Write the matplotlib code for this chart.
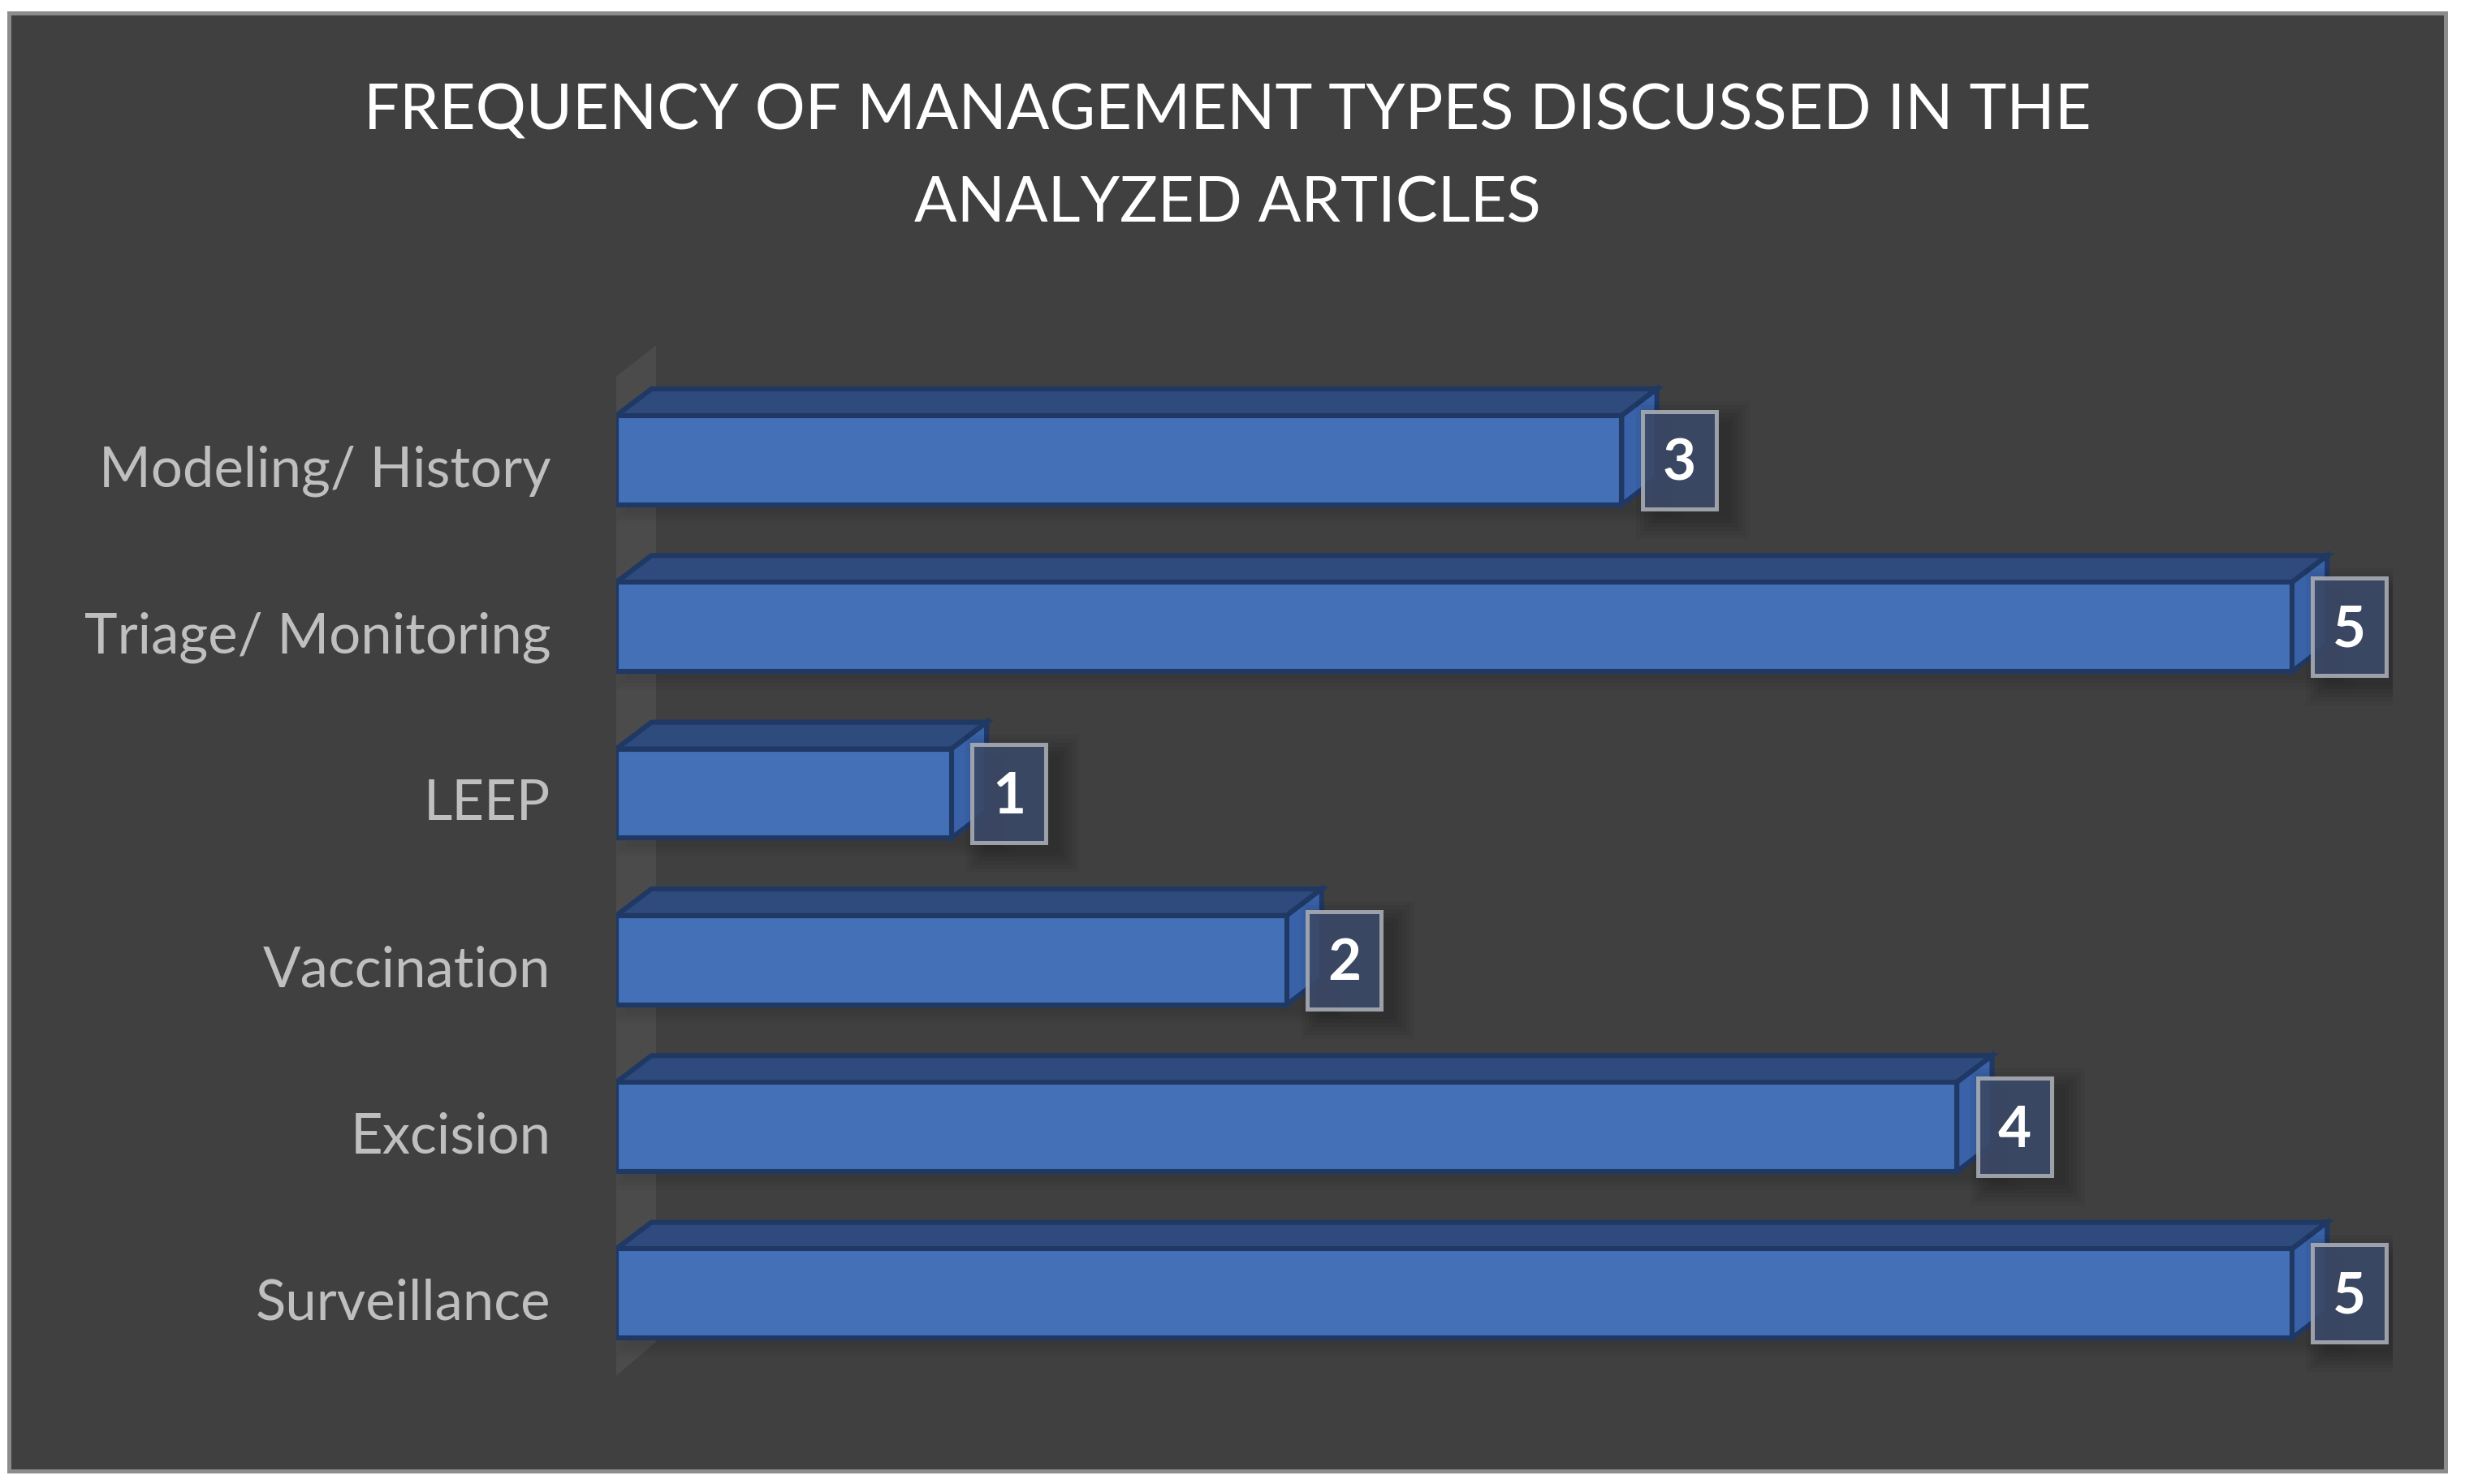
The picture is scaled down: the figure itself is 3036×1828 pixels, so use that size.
import matplotlib.pyplot as plt
from matplotlib.patches import Polygon, Rectangle
from matplotlib.transforms import ScaledTranslation

# data
categories = ['Modeling/ History', 'Triage/ Monitoring', 'LEEP', 'Vaccination', 'Excision', 'Surveillance']
counts = [3, 5, 1, 2, 4, 5]
title_lines = ['FREQUENCY OF MANAGEMENT TYPES DISCUSSED IN THE', 'ANALYZED ARTICLES']

plt.rcParams['font.family'] = ['Lato', 'DejaVu Sans']

BG = '#404040'
FRONT = '#4470b7'
TOP = '#2f4b7d'
SIDE = '#3a62a8'
EDGE = '#1f3864'
WALL = '#4b4b4b'

fig = plt.figure(figsize=(15.18, 9.14), dpi=200, facecolor='white')

# dark chart area with grey frame
fig.add_artist(Rectangle((11 / 3036, 16 / 1828), 3001 / 3036, 1796 / 1828,
                         transform=fig.transFigure, facecolor=BG,
                         edgecolor='#8c8c8c', lw=1.8, zorder=0))

ax = fig.add_axes([0.25, 0.0385, 0.7206, 0.7525])
ax.set_facecolor('none')
ax.set_xlim(0, 5.3)
ax.set_ylim(5.8, -0.9)
for s in ax.spines.values():
    s.set_visible(False)
ax.xaxis.set_visible(False)

ypos = list(range(len(categories)))
ax.set_yticks(ypos, categories)
ax.tick_params(axis='y', length=0, pad=29, labelsize=24.8, labelcolor='#bfbfbf')
# nudge labels slightly down, like the original
shift = ScaledTranslation(0, -2.5 / 72, fig.dpi_scale_trans)
for lbl in ax.get_yticklabels():
    lbl.set_transform(lbl.get_transform() + shift)

# depth of 3d effect (data units)
DX, DY = 0.105, 0.16
h = 0.535

# back wall
ax.add_patch(Polygon([(-0.027, -0.46), (0.119, -0.69), (0.119, 5.29), (-0.027, 5.54)],
                     closed=True, facecolor=WALL, edgecolor='none', zorder=1))

bars = ax.barh(ypos, counts, height=h, color=FRONT, edgecolor=EDGE, lw=2.2, zorder=3)

for y, v in zip(ypos, counts):
    top = y - h / 2
    bot = y + h / 2
    # faint shadow under the bar
    for k in range(4):
        g = 0.02 * k
        ax.add_patch(Rectangle((0.03 - g, top + 0.05 - g), v + DX + 2 * g, h + 2 * g,
                               facecolor='black', alpha=0.025, edgecolor='none', zorder=1.5))
    ax.add_patch(Polygon([(0, top), (v, top), (v + DX, top - DY), (DX, top - DY)],
                         closed=True, facecolor=TOP, edgecolor=EDGE, lw=2.2, zorder=2))
    ax.add_patch(Polygon([(v, top), (v + DX, top - DY), (v + DX, bot - DY), (v, bot)],
                         closed=True, facecolor=SIDE, edgecolor=EDGE, lw=2.2, zorder=2))

    # data label box with soft shadow
    bx = v + 0.062
    bw, bh = 0.22, 0.585
    for k in range(6):
        g = 0.012 * k
        ax.add_patch(Rectangle((bx + 0.04 - g, y - bh / 2 + 0.06 - g * 2), bw + 2 * g, bh + 4 * g,
                               facecolor='black', alpha=0.04, edgecolor='none', zorder=4))
    ax.add_patch(Rectangle((bx, y - bh / 2), bw, bh, facecolor='#3c4a68', alpha=0.9,
                           edgecolor='#a8acb4', lw=1.8, zorder=5))
    ax.text(bx + bw / 2, y + 0.02, str(v), ha='center', va='center', color='white',
            fontsize=25.5, fontweight='bold', zorder=6)

fig.text(0.498, 1 - 138 / 1828, title_lines[0], ha='center', va='center', color='white', fontsize=28)
fig.text(0.498, 1 - 252 / 1828, title_lines[1], ha='center', va='center', color='white', fontsize=28)

fig.savefig('out.png', dpi=200, facecolor='white')
